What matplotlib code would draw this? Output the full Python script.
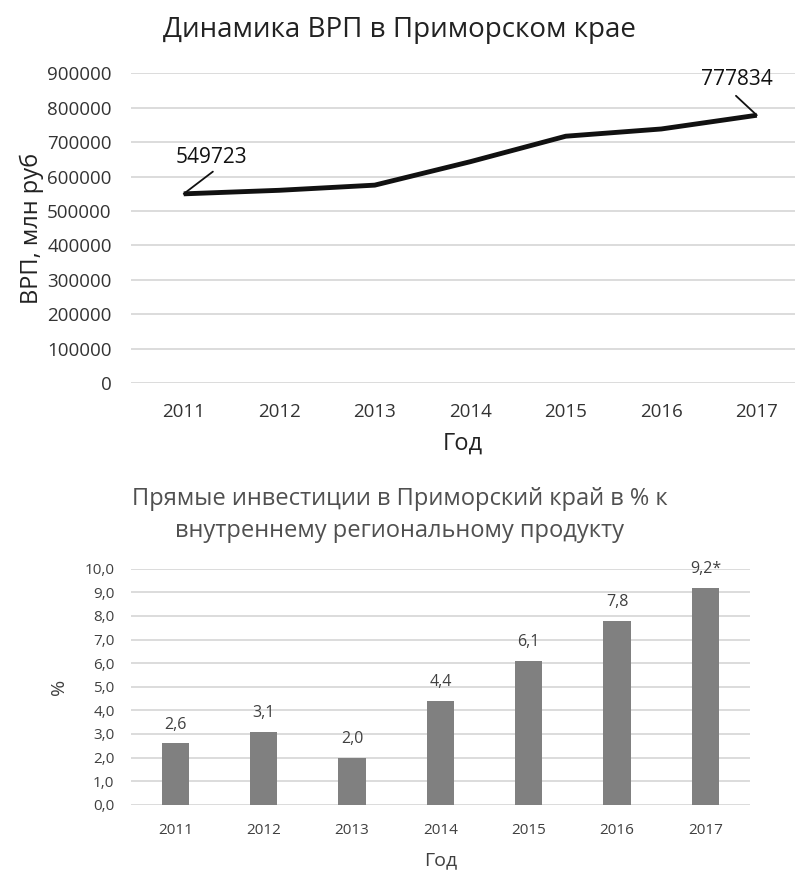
import matplotlib
matplotlib.use("Agg")
import matplotlib.pyplot as plt

years = ["2011", "2012", "2013", "2014", "2015", "2016", "2017"]
grp = [549723, 560000, 575000, 643000, 717000, 738000, 777834]
invest = [2.6, 3.1, 2.0, 4.4, 6.1, 7.8, 9.2]
invest_labels = ["2,6", "3,1", "2,0", "4,4", "6,1", "7,8", "9,2*"]
grp_ticks = [0, 100000, 200000, 300000, 400000, 500000, 600000, 700000, 800000, 900000]
inv_ticks = [0, 1, 2, 3, 4, 5, 6, 7, 8, 9, 10]

plt.rcParams['font.family'] = ['Open Sans', 'DejaVu Sans']

fig = plt.figure(figsize=(7.95, 8.71), dpi=100)

# ---- top chart ----
ax1 = fig.add_axes([0.165, 0.560, 0.835, 0.356])
x = list(range(len(years)))
ax1.plot(x, grp, color='#111111', lw=3.5, solid_capstyle='butt', zorder=3)
ax1.set_ylim(0, 900000)
ax1.set_xlim(-0.55, 6.4)
ax1.set_yticks(grp_ticks)
ax1.set_yticklabels([str(t) for t in grp_ticks])
ax1.set_xticks(x)
ax1.set_xticklabels(years)
ax1.grid(axis='y', color='#d9d9d9', lw=1.3)
ax1.set_axisbelow(True)
for s in ax1.spines.values():
    s.set_visible(False)
ax1.tick_params(length=0, labelsize=13.5, colors='#333333', pad=14)
ax1.tick_params(axis='x', pad=14)
ax1.set_ylabel("ВРП, млн руб", fontsize=17, color='#222222', labelpad=2)
ax1.set_xlabel("Год", fontsize=17, color='#222222', labelpad=8)
fig.text(0.503, 0.966, "Динамика ВРП в Приморском крае", ha='center', va='center',
         fontsize=20, color='#222222')

# data labels with leader lines
ann = [(0, "549723", (20, 26), (21, 16)), (6, "777834", (-14.5, 26), (-15, 14))]
for i, lab, toff, loff in ann:
    ax1.annotate(lab, xy=(x[i], grp[i]), xytext=toff, textcoords='offset points',
                 ha='center', va='center', fontsize=15, color='#111111')
    ax1.annotate("", xy=(x[i], grp[i]), xytext=loff, textcoords='offset points',
                 arrowprops=dict(arrowstyle='-', color='#111111', lw=1.3,
                                 shrinkA=0, shrinkB=0))

# ---- bottom chart ----
ax2 = fig.add_axes([0.165, 0.076, 0.778, 0.271])
ax2.bar(x, invest, width=0.31, color='#808080', zorder=3)
ax2.set_ylim(0, 10)
ax2.set_xlim(-0.5, 6.5)
ax2.set_yticks(inv_ticks)
ax2.set_yticklabels([f"{t:.1f}".replace('.', ',') for t in inv_ticks])
ax2.set_xticks(x)
ax2.set_xticklabels(years)
ax2.grid(axis='y', color='#d9d9d9', lw=1.3)
ax2.set_axisbelow(True)
for s in ax2.spines.values():
    s.set_visible(False)
ax2.tick_params(length=0, labelsize=11, colors='#404040', pad=12)
ax2.tick_params(axis='x', pad=13)
for xi, v, lab in zip(x, invest, invest_labels):
    ax2.text(xi, v + 0.45, lab, ha='center', va='bottom', fontsize=11.5, color='#404040')
ax2.set_ylabel("%", fontsize=14, color='#404040', labelpad=12)
ax2.set_xlabel("Год", fontsize=14, color='#404040', labelpad=10)
fig.text(0.503, 0.409, "Прямые инвестиции в Приморский край в % к\nвнутреннему региональному продукту",
         ha='center', va='center', fontsize=17, color='#505050', linespacing=1.45)

fig.savefig("out.png", dpi=100)
